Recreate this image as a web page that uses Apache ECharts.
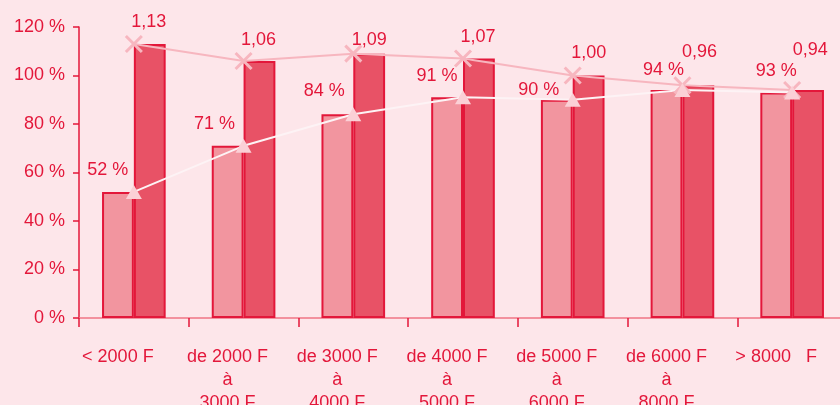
<!DOCTYPE html>
<html><head><meta charset="utf-8">
<script src="https://cdn.jsdelivr.net/npm/echarts@6/dist/echarts.min.js"></script>
<style>html,body{margin:0;padding:0;background:#fde6ea;}#c{width:840px;height:405px;}</style>
</head><body><div id="c"></div>
<script>
const categories = ['< 2000 F', 'de 2000 F\nà\n3000 F', 'de 3000 F\nà\n4000 F', 'de 4000 F\nà\n5000 F', 'de 5000 F\nà\n6000 F', 'de 6000 F\nà\n8000 F', '> 8000   F'];
const shares = [52, 71, 84, 91, 90, 94, 93];
const ratios = [1.13, 1.06, 1.09, 1.07, 1.00, 0.96, 0.94];
const yTicks = [0, 20, 40, 60, 80, 100, 120];

// label placement nudges (style only)
const shareLabelNudge = [[-26, -22], [-29, -22], [-29, -23], [-26, -21], [-34, -10], [-19, -20], [-16, -21]];
const ratioLabelNudge = [[15, -22], [15, -21], [16, -14], [15, -21], [16, -22], [17, -33], [18, -40]];

const red = '#e3173a';
const chart = echarts.init(document.getElementById('c'), null, {renderer: 'canvas'});
const ratioPct = ratios.map(v => Math.round(v * 100));
chart.setOption({
  backgroundColor: '#fde6ea',
  animation: false,
  textStyle: {fontFamily: 'Liberation Sans'},
  grid: {left: 79, right: -7, top: 27, bottom: 87, containLabel: false, outerBoundsMode: 'none'},
  xAxis: {
    type: 'category', data: categories,
    axisLine: {lineStyle: {color: '#f07585', width: 1.5}},
    axisTick: {show: true, length: 9, lineStyle: {color: red, width: 1.5}},
    axisLabel: {color: red, fontSize: 18, lineHeight: 23, margin: 28, interval: 0, padding: [0, 32, 0, 0]}
  },
  yAxis: {
    type: 'value', min: 0, max: 120, interval: 20,
    splitLine: {show: false},
    axisLine: {show: true, lineStyle: {color: red, width: 1.5}},
    axisTick: {show: true, length: 6, lineStyle: {color: red, width: 1.5}},
    axisLabel: {color: red, fontSize: 18, margin: 14, formatter: v => yTicks.includes(v) ? v + ' %' : ''}
  },
  series: [
    {type: 'bar', data: shares, barGap: '0%', barCategoryGap: '42%',
     itemStyle: {color: '#f2959f', borderColor: red, borderWidth: 2}},
    {type: 'bar', data: ratioPct,
     itemStyle: {color: '#e85266', borderColor: red, borderWidth: 2}},
    {type: 'line', symbol: 'path://M0,0 L10,10 M10,0 L0,10', symbolSize: 16,
     data: ratioPct.map((v, i) => ({value: v, label: {offset: ratioLabelNudge[i]}})),
     lineStyle: {color: '#f7b6bf', width: 2}, itemStyle: {color: '#f7b6bf', borderColor: '#f7b6bf', borderWidth: 3},
     label: {show: true, position: 'inside', color: red, fontSize: 18,
       formatter: p => ratios[p.dataIndex].toFixed(2).replace('.', ',')}},
    {type: 'line', symbol: 'triangle', symbolSize: [16, 14],
     data: shares.map((v, i) => ({value: v, label: {offset: shareLabelNudge[i]}})),
     lineStyle: {color: '#fdf3f5', width: 2}, itemStyle: {color: '#fbd0d6'},
     label: {show: true, position: 'inside', color: red, fontSize: 18,
       formatter: p => shares[p.dataIndex] + ' %'}}
  ]
});
</script></body></html>
